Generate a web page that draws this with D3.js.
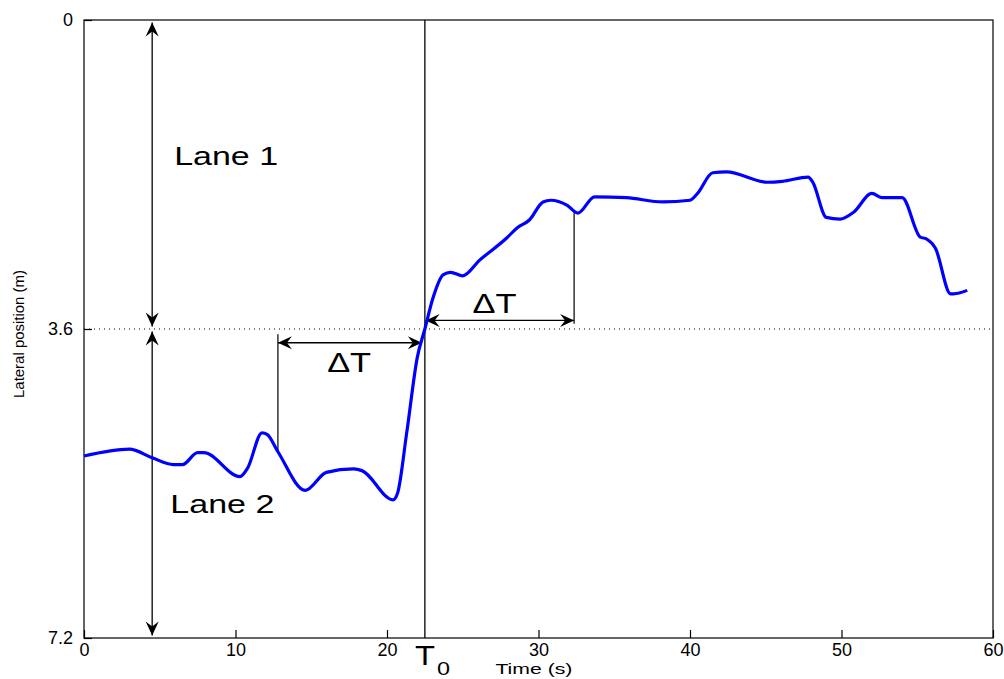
<!DOCTYPE html>
<html>
<head>
<meta charset="utf-8">
<script src="https://cdn.jsdelivr.net/npm/d3@7"></script>
<style>
  body { margin: 0; background: #fff; }
  text { font-family: "Liberation Sans", Arial, sans-serif; fill: #000; }
</style>
</head>
<body>
<div id="chartArea"></div>
<script>
// time (s) and lateral position (m)
var timeS  = [0, 3.0, 4.5, 5.9, 6.5, 7.5, 7.9, 10.3, 10.8, 11.75, 12.1, 12.8, 14.6, 16.0, 17.8, 18.35,
              20.4, 20.7, 21.3, 22.0, 22.5, 23.0, 23.7, 24.2, 25.0, 26.1, 27.9, 28.6, 29.4, 30.3, 30.8,
              31.9, 32.6, 33.7, 35.8, 38.2, 40.0, 40.5, 41.5, 42.4, 45.1, 46.1, 47.8, 48.1, 49.0, 49.9,
              50.8, 52.0, 52.7, 54.0, 55.2, 55.6, 56.2, 57.2, 57.4, 58.3];
var latPos = [5.08, 5.00, 5.10, 5.18, 5.18, 5.04, 5.04, 5.32, 5.22, 4.81, 4.83, 5.03, 5.48, 5.27, 5.23, 5.25,
              5.59, 5.51, 4.81, 3.93, 3.60, 3.26, 2.97, 2.94, 2.98, 2.80, 2.54, 2.42, 2.33, 2.12, 2.10,
              2.16, 2.25, 2.06, 2.07, 2.12, 2.10, 2.02, 1.78, 1.77, 1.89, 1.88, 1.83, 1.89, 2.30, 2.32,
              2.24, 2.02, 2.07, 2.07, 2.53, 2.55, 2.66, 3.19, 3.19, 3.15];

var xTicks = [0, 10, 20, 30, 40, 50, 60];
var yTicks = [0, 3.6, 7.2];

var laneBoundary = 3.6;
var t0 = 22.5;
var laneArrowT = 4.5;
var laneArrows = [[0.03, 3.57], [3.63, 7.17]];   // lateral position spans
var laneLabels = [{ text: "Lane 1", t: 5.95, v: 1.685 }, { text: "Lane 2", t: 5.7, v: 5.74 }];

// delta T markers: [start time, end time, arrow level, tick top, curve value, label time, label level]
var deltaBefore = [12.8, 22.3, 3.76, 3.66, 5.03, 17.5, 4.10];
var deltaAfter  = [32.35, 22.55, 3.50, 3.54, 2.21, 27.1, 3.41];

var margin = { top: 20, right: 11, bottom: 41, left: 84 },
    width = 1004 - margin.left - margin.right,
    height = 679 - margin.top - margin.bottom;

var svg = d3.select("#chartArea").append("svg")
  .attr("width", 1004)
  .attr("height", 679);

var defs = svg.append("defs");
defs.append("marker")
  .attr("id", "head")
  .attr("markerUnits", "userSpaceOnUse")
  .attr("viewBox", "-15 -8 16 16")
  .attr("markerWidth", 16)
  .attr("markerHeight", 16)
  .attr("refX", 0)
  .attr("refY", 0)
  .attr("orient", "auto-start-reverse")
  .append("path")
  .attr("d", "M0,0 L-14,-6.5 L-9,0 L-14,6.5 Z")
  .attr("fill", "#000");

var g = svg.append("g")
  .attr("transform", "translate(" + margin.left + "," + margin.top + ")");

var x = d3.scaleLinear().domain([0, 60]).range([0, width]);
var y = d3.scaleLinear().domain([0, 7.2]).range([0, height]);

// frame
g.append("rect")
  .attr("width", width)
  .attr("height", height)
  .attr("fill", "none")
  .attr("stroke", "#000")
  .attr("stroke-width", 1.2);

// axes with inward ticks
var xAxis = d3.axisBottom(x).tickValues(xTicks).tickSize(-8).tickPadding(5).tickFormat(d3.format("d"));
var yAxis = d3.axisLeft(y).tickValues(yTicks).tickSize(-8).tickPadding(11).tickFormat(function (d) { return d === 0 ? "0" : d3.format(".1f")(d); });

g.append("g")
  .attr("transform", "translate(0," + height + ")")
  .call(xAxis)
  .call(function (a) { a.select(".domain").remove(); })
  .selectAll("text")
  .style("font-size", "18px")
  .style("font-family", "Liberation Sans, Arial, sans-serif");

g.append("g")
  .call(yAxis)
  .call(function (a) { a.select(".domain").remove(); })
  .selectAll("text")
  .style("font-size", "18px")
  .style("font-family", "Liberation Sans, Arial, sans-serif");

g.selectAll(".tick line").attr("stroke", "#000").attr("stroke-width", 1.2);

// lane boundary
g.append("line")
  .attr("x1", 0).attr("x2", width)
  .attr("y1", y(laneBoundary)).attr("y2", y(laneBoundary))
  .attr("stroke", "#000")
  .attr("stroke-width", 1)
  .attr("stroke-dasharray", "1,4");

// T0 line
g.append("line")
  .attr("x1", x(t0)).attr("x2", x(t0))
  .attr("y1", 0).attr("y2", height)
  .attr("stroke", "#000")
  .attr("stroke-width", 1.3);

// lane width arrows
g.selectAll(".laneArrow")
  .data(laneArrows)
  .enter().append("line")
  .attr("class", "laneArrow")
  .attr("x1", x(laneArrowT)).attr("x2", x(laneArrowT))
  .attr("y1", function (d) { return y(d[0]); })
  .attr("y2", function (d) { return y(d[1]); })
  .attr("stroke", "#000")
  .attr("stroke-width", 1.3)
  .attr("marker-start", "url(#head)")
  .attr("marker-end", "url(#head)");

g.selectAll(".laneLabel")
  .data(laneLabels)
  .enter().append("text")
  .attr("class", "laneLabel")
  .attr("x", function (d) { return x(d.t); })
  .attr("y", function (d) { return y(d.v); })
  .attr("textLength", 104)
  .attr("lengthAdjust", "spacingAndGlyphs")
  .style("font-size", "26px")
  .text(function (d) { return d.text; });

// delta T markers
[deltaBefore, deltaAfter].forEach(function (d) {
  g.append("line")
    .attr("x1", x(d[0])).attr("x2", x(d[0]))
    .attr("y1", y(d[3])).attr("y2", y(d[4]))
    .attr("stroke", "#000")
    .attr("stroke-width", 1.2);
  g.append("line")
    .attr("x1", x(d[0])).attr("x2", x(d[1]))
    .attr("y1", y(d[2])).attr("y2", y(d[2]))
    .attr("stroke", "#000")
    .attr("stroke-width", 1.3)
    .attr("marker-start", "url(#head)")
    .attr("marker-end", "url(#head)");
  g.append("text")
    .attr("x", x(d[5]))
    .attr("y", y(d[6]))
    .attr("text-anchor", "middle")
    .attr("textLength", 44)
    .attr("lengthAdjust", "spacingAndGlyphs")
    .style("font-size", "27px")
    .text("\u0394T");
});

// lateral position trace
var line = d3.line()
  .x(function (d, i) { return x(timeS[i]); })
  .y(function (d) { return y(d); })
  .curve(d3.curveMonotoneX);

g.append("path")
  .datum(latPos)
  .attr("d", line)
  .attr("fill", "none")
  .attr("stroke", "#0000ff")
  .attr("stroke-width", 3.2)
  .attr("stroke-linejoin", "round");

// T0 label
g.append("text")
  .attr("x", x(t0) - 10)
  .attr("y", height + 27)
  .attr("textLength", 20)
  .attr("lengthAdjust", "spacingAndGlyphs")
  .style("font-size", "28px")
  .text("T");
g.append("text")
  .attr("x", x(t0) + 12)
  .attr("y", height + 37)
  .attr("textLength", 13)
  .attr("lengthAdjust", "spacingAndGlyphs")
  .style("font-size", "18px")
  .text("0");

// axis titles
g.append("text")
  .attr("x", x(t0) + 109)
  .attr("y", height + 36)
  .attr("text-anchor", "middle")
  .attr("textLength", 77)
  .attr("lengthAdjust", "spacingAndGlyphs")
  .style("font-size", "15px")
  .text("Time (s)");

g.append("text")
  .attr("transform", "rotate(-90)")
  .attr("x", -y(laneBoundary) - 5)
  .attr("y", -60)
  .attr("text-anchor", "middle")
  .attr("textLength", 128)
  .attr("lengthAdjust", "spacingAndGlyphs")
  .style("font-size", "14px")
  .text("Lateral position (m)");
</script>
</body>
</html>
